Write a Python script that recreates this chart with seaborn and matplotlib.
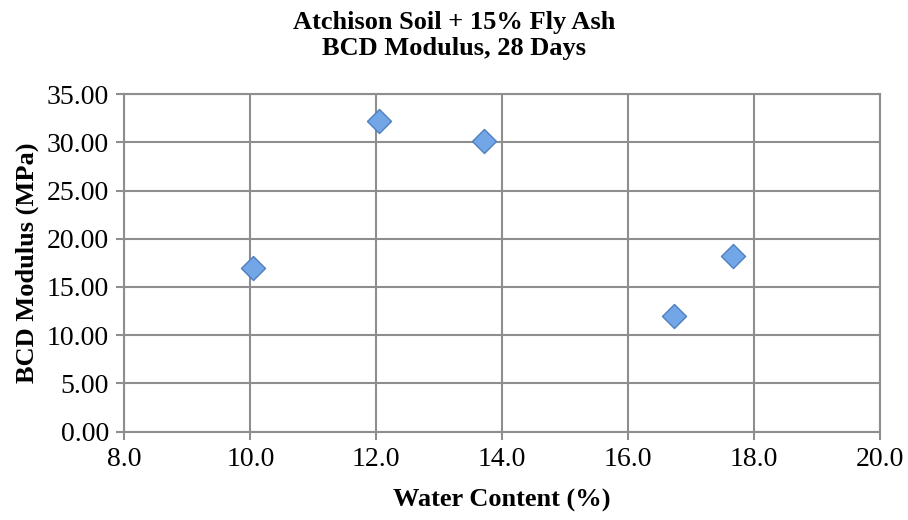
import matplotlib
matplotlib.use("Agg")
import matplotlib.pyplot as plt
import seaborn as sns
import pandas as pd

# data
water_content = [10.04, 12.04, 13.71, 16.73, 17.66]
bcd_modulus = [17.0, 32.2, 30.1, 12.0, 18.2]
x_ticks = [8.0, 10.0, 12.0, 14.0, 16.0, 18.0, 20.0]
y_ticks = [0, 5, 10, 15, 20, 25, 30, 35]

sns.set_style("white")
plt.rcParams["font.family"] = ["Liberation Serif", "DejaVu Serif"]
plt.rcParams["text.color"] = "black"
plt.rcParams["axes.labelcolor"] = "black"

df = pd.DataFrame({"wc": water_content, "mod": bcd_modulus})

fig = plt.figure(figsize=(9.08, 5.2), dpi=100)
ax = fig.add_axes([0.137, 0.170, 0.832, 0.649])

grid_col = "#8e8e8e"
sns.scatterplot(data=df, x="wc", y="mod", marker="D", s=150,
                color="#72a6e6", edgecolor="#4f7fc2", linewidth=1.0,
                ax=ax, zorder=3)

ax.set_xlim(8, 20)
ax.set_ylim(0, 35)
ax.set_xticks(x_ticks)
ax.set_yticks(y_ticks)
ax.set_xticklabels([f"{v:.1f}" for v in x_ticks], fontsize=20)
ax.set_yticklabels([f"{v:.2f}" for v in y_ticks], fontsize=20)
ax.grid(True, color=grid_col, linewidth=1.5)
ax.set_axisbelow(True)
for sp in ax.spines.values():
    sp.set_color(grid_col)
    sp.set_linewidth(1.5)
ax.tick_params(axis="both", direction="out", length=6, width=1.5,
               color=grid_col, pad=5, labelcolor="black")
ax.tick_params(axis="x", bottom=True)
ax.tick_params(axis="y", left=True)

ax.set_xlabel("Water Content (%)", fontsize=19, fontweight="bold", labelpad=12)
ax.set_ylabel("BCD Modulus (MPa)", fontsize=19, fontweight="bold", labelpad=6)
fig.text(0.5, 0.932, "Atchison Soil + 15% Fly Ash\nBCD Modulus, 28 Days",
         ha="center", va="center", fontsize=19, fontweight="bold",
         linespacing=1.15)

fig.savefig("out.png", dpi=100)
plt.close(fig)
